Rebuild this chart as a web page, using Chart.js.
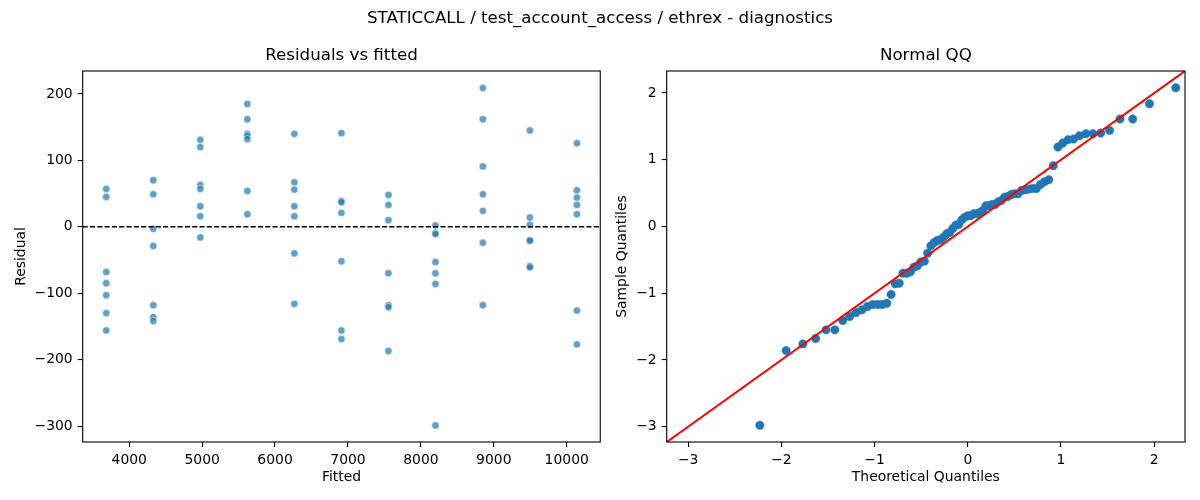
<!DOCTYPE html>
<html>
<head>
<meta charset="utf-8">
<script src="https://cdn.jsdelivr.net/npm/chart.js@4.4.1/dist/chart.umd.min.js"></script>
<style>
  body { margin: 0; background: #fff; }
  #wrap { position: relative; width: 1200px; height: 500px; font-family: 'DejaVu Sans', sans-serif; }
  #resid { position: absolute; left: 0; top: 0; }
  #qq { position: absolute; left: 605px; top: 0; }
  #suptitle { position: absolute; left: 0; top: 8px; width: 1200px; text-align: center;
              font-size: 16.67px; line-height: 20px; color: #000; }
</style>
</head>
<body>
<div id="wrap">
  <canvas id="resid" width="605" height="500"></canvas>
  <canvas id="qq" width="595" height="500"></canvas>
  <div id="suptitle">STATICCALL / test_account_access / ethrex - diagnostics</div>
</div>
<script>
// fitted value of each group (x) and the residuals
const fittedLevels = [3685, 4330, 4975, 5620, 6265, 6910, 7555, 8200, 8850, 9495, 10140];
const residualsByLevel = [
  [57, 45, -68, -85, -103, -130, -156],
  [70, 49, -3, -29, -118, -136, -142],
  [131, 120, 63, 57, 31, 16, -16],
  [185, 162, 140, 137, 132, 54, 19],
  [140, 67, 56, 31, 16, -40, -116],
  [141, 39, 37, 21, -52, -156, -169],
  [48, 33, 10, -70, -118, -121, -187],
  [2, -9, -11, -53, -70, -86, -299],
  [209, 162, 91, 49, 24, -24, -118],
  [145, 14, 3, -20, -21, -59, -61],
  [126, 55, 44, 33, 19, -126, -177]
];

// normal QQ: theoretical vs sample quantiles
const theoreticalQ = [
  -2.231, -1.949, -1.769, -1.633, -1.521, -1.426, -1.342, -1.267, -1.198, -1.135,
  -1.076, -1.020, -0.967, -0.917, -0.869, -0.823, -0.779, -0.736, -0.695, -0.655,
  -0.616, -0.577, -0.539, -0.502, -0.466, -0.431, -0.396, -0.361, -0.327, -0.293,
  -0.260, -0.227, -0.194, -0.161, -0.129, -0.097, -0.064, -0.032, 0.000, 0.032,
  0.064, 0.097, 0.129, 0.161, 0.194, 0.227, 0.260, 0.293, 0.327, 0.361,
  0.396, 0.431, 0.466, 0.502, 0.539, 0.577, 0.616, 0.655, 0.695, 0.736,
  0.779, 0.823, 0.869, 0.917, 0.967, 1.020, 1.076, 1.135, 1.198, 1.267,
  1.342, 1.426, 1.521, 1.633, 1.769, 1.949, 2.231
];
const sampleQ = [
  -2.98, -1.86, -1.76, -1.68, -1.55, -1.55, -1.41, -1.35, -1.29, -1.25,
  -1.20, -1.17, -1.17, -1.17, -1.15, -1.02, -0.86, -0.85, -0.70, -0.70,
  -0.68, -0.61, -0.59, -0.53, -0.52, -0.40, -0.29, -0.24, -0.21, -0.20,
  -0.16, -0.11, -0.09, -0.03, 0.02, 0.03, 0.10, 0.14, 0.16, 0.16,
  0.19, 0.19, 0.21, 0.24, 0.31, 0.31, 0.33, 0.33, 0.37, 0.39,
  0.44, 0.45, 0.48, 0.49, 0.49, 0.54, 0.55, 0.56, 0.57, 0.57,
  0.63, 0.67, 0.70, 0.91, 1.19, 1.25, 1.30, 1.31, 1.36, 1.39,
  1.39, 1.40, 1.44, 1.61, 1.61, 1.84, 2.08
];

// tick labels
const residXTicks = [4000, 5000, 6000, 7000, 8000, 9000, 10000];
const residYTicks = [-300, -200, -100, 0, 100, 200];
const qqTicks = [-3, -2, -1, 0, 1, 2];

// axis limits
const residXLim = [3362, 10460];
const residYLim = [-324, 234.6];
const qqLim = [-3.23, 2.33];

Chart.defaults.font.family = 'DejaVu Sans';
Chart.defaults.color = '#000';

// matplotlib style box around the plot area
const framePlugin = {
  id: 'frame',
  afterDatasetsDraw(chart) {
    const { ctx, chartArea: a } = chart;
    ctx.save();
    ctx.strokeStyle = '#000';
    ctx.lineWidth = 1.1;
    ctx.strokeRect(a.left, a.top, a.right - a.left, a.bottom - a.top);
    ctx.restore();
  }
};

function axis(lim, ticks, title, titlePad, size, isX) {
  return {
    type: 'linear',
    min: lim[0],
    max: lim[1],
    afterBuildTicks: s => { s.ticks = ticks.map(v => ({ value: v })); },
    afterFit: s => { if (isX) s.height = size; else s.width = size; },
    grid: { drawOnChartArea: false, drawTicks: true, tickLength: 5, color: '#000', lineWidth: 1.1 },
    border: { display: false },
    ticks: {
      color: '#000', padding: 5, autoSkip: false, maxRotation: 0,
      font: { size: 13.9 },
      callback: v => String(v).replace('-', '\u2212')
    },
    title: { display: true, text: title, color: '#000', font: { size: 13.9 }, padding: titlePad }
  };
}

function titleOpts(text) {
  return {
    display: true, text, fullSize: false, color: '#000',
    font: { size: 16.67, weight: 'normal', lineHeight: 1.2 },
    padding: { top: 46, bottom: 5 }
  };
}

// —— residuals vs fitted ——
const residPoints = [];
fittedLevels.forEach((f, i) => {
  residualsByLevel[i].forEach(r => residPoints.push({ x: f, y: r }));
});

new Chart(document.getElementById('resid'), {
  type: 'scatter',
  data: {
    datasets: [
      {
        data: [{ x: residXLim[0], y: 0 }, { x: residXLim[1], y: 0 }],
        showLine: true,
        borderColor: '#000',
        borderWidth: 1.4,
        borderDash: [5.1, 2.2],
        pointRadius: 0,
        order: 0
      },
      {
        data: residPoints,
        pointRadius: 3.7,
        backgroundColor: 'rgba(31,119,180,0.7)',
        borderColor: 'rgba(255,255,255,0.7)',
        borderWidth: 0.75,
        order: 1
      }
    ]
  },
  options: {
    responsive: false,
    animation: false,
    events: [],
    layout: { padding: { left: 0, right: 3.7, top: 0, bottom: 0 } },
    plugins: {
      legend: { display: false },
      tooltip: { enabled: false },
      title: titleOpts('Residuals vs fitted')
    },
    scales: {
      x: axis(residXLim, residXTicks, 'Fitted', { top: 0, bottom: 14.7 }, 58, true),
      y: axis(residYLim, residYTicks, 'Residual', { top: 12.7, bottom: 0 }, 82.7, false)
    }
  },
  plugins: [framePlugin]
});

// —— normal QQ ——
new Chart(document.getElementById('qq'), {
  type: 'scatter',
  data: {
    datasets: [
      {
        data: [{ x: qqLim[0], y: qqLim[0] }, { x: qqLim[1], y: qqLim[1] }],
        showLine: true,
        borderColor: '#ff0000',
        borderWidth: 2,
        pointRadius: 0,
        order: 0
      },
      {
        data: theoreticalQ.map((t, i) => ({ x: t, y: sampleQ[i] })),
        pointRadius: 4.2,
        backgroundColor: '#1f77b4',
        borderColor: '#1f77b4',
        borderWidth: 0.5,
        order: 1
      }
    ]
  },
  options: {
    responsive: false,
    animation: false,
    events: [],
    layout: { padding: { left: 0, right: 15, top: 0, bottom: 0 } },
    plugins: {
      legend: { display: false },
      tooltip: { enabled: false },
      title: titleOpts('Normal QQ')
    },
    scales: {
      x: axis(qqLim, qqTicks, 'Theoretical Quantiles', { top: 0, bottom: 14.7 }, 58, true),
      y: axis(qqLim, qqTicks, 'Sample Quantiles', { top: 8.7, bottom: 0 }, 61.7, false)
    }
  },
  plugins: [framePlugin]
});
</script>
</body>
</html>
